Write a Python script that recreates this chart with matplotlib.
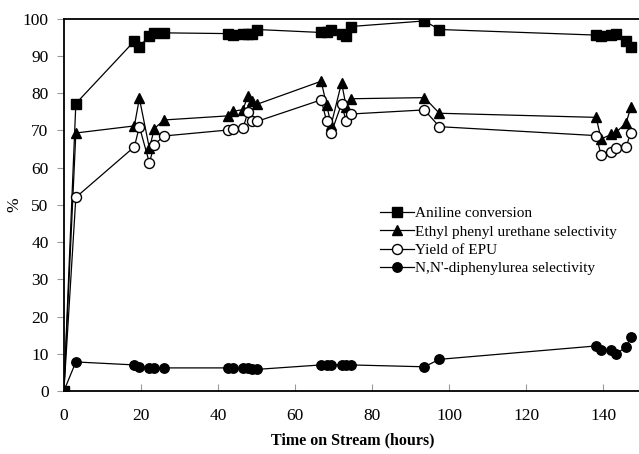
import numpy as np
import matplotlib
matplotlib.use('Agg')
import matplotlib.pyplot as plt

# time on stream (hours), shared by all series
hours = [0, 3.1, 18.3, 19.6, 22.2, 23.5, 26.0, 42.6, 43.9, 46.5, 47.8, 48.9, 50.1,
         66.8, 68.2, 69.4, 72.1, 73.3, 74.5, 93.6, 97.5,
         138.2, 139.5, 142.1, 143.4, 146.0, 147.2]

aniline_conv = [0, 77.2, 94.0, 92.5, 95.4, 96.2, 96.2, 96.0, 95.6, 96.0, 96.0, 96.0, 97.1,
                96.3, 96.4, 97.0, 95.9, 95.4, 97.9, 99.4, 97.1,
                95.6, 95.4, 95.5, 95.9, 93.9, 92.5]
epu_select = [0, 69.3, 71.2, 78.6, 65.2, 70.5, 72.8, 73.9, 75.1, 75.6, 79.3, 78.0, 77.0,
              83.2, 76.9, 71.5, 82.8, 76.4, 78.5, 78.8, 74.6,
              73.5, 67.7, 68.9, 69.5, 72.0, 76.2]
epu_yield = [0, 52.0, 65.6, 71.0, 61.3, 66.2, 68.5, 70.1, 70.4, 70.6, 74.9, 72.4, 72.4,
             78.2, 72.6, 69.3, 77.1, 72.4, 74.4, 75.5, 71.0,
             68.6, 63.4, 64.1, 65.4, 65.6, 69.4]
dpu_select = [0, 7.8, 7.0, 6.5, 6.2, 6.2, 6.2, 6.2, 6.2, 6.2, 6.2, 5.8, 5.8,
              7.0, 7.0, 7.0, 7.0, 7.0, 7.0, 6.5, 8.5,
              12.1, 11.0, 11.0, 9.9, 11.9, 14.4]

labels = ['Aniline conversion', 'Ethyl phenyl urethane selectivity',
          'Yield of EPU', "N,N'-diphenylurea selectivity"]

plt.rcParams['font.family'] = ['Liberation Serif', 'DejaVu Serif']

fig = plt.figure(figsize=(6.39, 4.54), dpi=100)
ax = fig.add_axes([0.100, 0.1388, 0.904, 0.820])

lw = 0.9
ax.plot(hours, aniline_conv, color='black', lw=lw, marker='s', ms=6.8, label=labels[0])
ax.plot(hours, epu_select, color='black', lw=lw, marker='^', ms=7.2, label=labels[1])
ax.plot(hours, epu_yield, color='black', lw=lw, marker='o', ms=7.2, mfc='white', mew=1.0,
        label=labels[2])
ax.plot(hours, dpu_select, color='black', lw=lw, marker='o', ms=6.8, label=labels[3])

ax.set_xlim(0, 150)
ax.set_ylim(0, 100)
ax.set_xticks(np.arange(0, 141, 20))
ax.set_yticks(np.arange(0, 101, 10))

for s in ['left', 'bottom', 'top']:
    ax.spines[s].set_linewidth(1.3)
ax.spines['right'].set_visible(False)

ax.tick_params(axis='x', direction='in', length=5, color='#999999', labelsize=12.5, pad=12)
ax.tick_params(axis='y', direction='out', length=5, color='#999999', labelsize=12.5, pad=6)

ax.set_xlabel('Time on Stream (hours)', fontsize=11.5, fontweight='bold', labelpad=6)
ax.set_ylabel('%', fontsize=12.5, labelpad=0)

ax.legend(loc='upper left', bbox_to_anchor=(0.585, 0.558), bbox_transform=fig.transFigure,
          frameon=False, fontsize=11, handlelength=2.2, handletextpad=0.1,
          labelspacing=0.3, borderaxespad=0)

plt.savefig('out.png', dpi=100)
